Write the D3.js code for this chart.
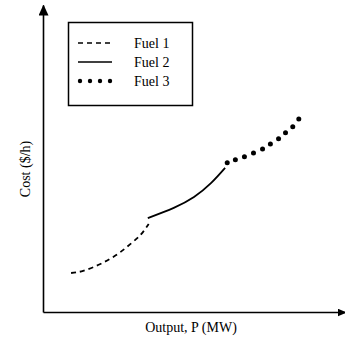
<!DOCTYPE html>
<html><head><meta charset="utf-8">
<script src="https://cdn.jsdelivr.net/npm/d3@7"></script>
<style>html,body{margin:0;padding:0;background:#fff;}</style>
</head><body>
<script>
const fuel1 = [[9.3,13],[13.3,13.7],[19,16],[24.7,19.3],[29,22.7],[32.3,25.7],[35,29.3]];
const fuel2 = [[34.7,31.3],[43.3,34.7],[50,38.3],[55.7,43],[60.3,48]];
const fuel3 = [[61,49.7],[63.7,50.7],[66.7,51.7],[69.7,53],[72.7,54.3],[75.3,56],[78,57.7],[80.3,59.7],[82.7,61.7],[84.7,64.3]];
const legendLabels = ["Fuel 1","Fuel 2","Fuel 3"];
const xLabel = "Output, P (MW)";
const yLabel = "Cost ($/h)";

const W=345,H=340;
const svg=d3.select("body").append("svg").attr("width",W).attr("height",H);
const defs=svg.append("defs");
defs.append("marker").attr("id","arrY").attr("viewBox","0 0 11 10").attr("refX",10).attr("refY",5)
  .attr("markerWidth",11).attr("markerHeight",10).attr("markerUnits","userSpaceOnUse").attr("orient","auto")
  .append("path").attr("d","M0,0L11,5L0,10Z").attr("fill","#000");
defs.append("marker").attr("id","arrX").attr("viewBox","0 0 9 8").attr("refX",8).attr("refY",4)
  .attr("markerWidth",9).attr("markerHeight",8).attr("markerUnits","userSpaceOnUse").attr("orient","auto")
  .append("path").attr("d","M0,0L9,4L0,8Z").attr("fill","#000");

const x=d3.scaleLinear().domain([0,100]).range([43,345]);
const y=d3.scaleLinear().domain([0,102.3]).range([312,5]);

const gx=svg.append("g").attr("transform","translate(0,312)")
  .call(d3.axisBottom(x).tickValues([]).tickSizeOuter(0));
gx.select(".domain").attr("stroke","#000").attr("stroke-width",1.6).attr("marker-end","url(#arrX)");
const gy=svg.append("g").attr("transform","translate(43,0)")
  .call(d3.axisLeft(y).tickValues([]).tickSizeOuter(0));
gy.select(".domain").attr("stroke","#000").attr("stroke-width",1.6).attr("marker-end","url(#arrY)");

const line=d3.line().x(d=>x(d[0])).y(d=>y(d[1])).curve(d3.curveNatural);
svg.append("path").datum(fuel1).attr("d",line).attr("fill","none").attr("stroke","#000")
  .attr("stroke-width",1.8).attr("stroke-dasharray","5,4");
svg.append("path").datum(fuel2).attr("d",line).attr("fill","none").attr("stroke","#000")
  .attr("stroke-width",1.8);
svg.selectAll("circle.f3").data(fuel3).join("circle").attr("class","f3")
  .attr("cx",d=>x(d[0])).attr("cy",d=>y(d[1])).attr("r",2.5).attr("fill","#000");

// legend
const lg=svg.append("g");
lg.append("rect").attr("x",68.5).attr("y",22.5).attr("width",124).attr("height",83)
  .attr("fill","none").attr("stroke","#000").attr("stroke-width",1.5);
const rows=[43,62,81];
lg.append("line").attr("x1",78).attr("x2",112).attr("y1",rows[0]).attr("y2",rows[0])
  .attr("stroke","#000").attr("stroke-width",1.6).attr("stroke-dasharray","5,4");
lg.append("line").attr("x1",78).attr("x2",112).attr("y1",rows[1]).attr("y2",rows[1])
  .attr("stroke","#000").attr("stroke-width",1.6);
lg.selectAll("circle").data([80,90,100,110]).join("circle").attr("cx",d=>d).attr("cy",rows[2]).attr("r",2.2).attr("fill","#000");
lg.selectAll("text").data(legendLabels).join("text").attr("x",134).attr("y",(d,i)=>rows[i]+4.5)
  .attr("font-family","Liberation Serif, Times New Roman, serif").attr("font-size",14).text(d=>d);

svg.append("text").attr("x",191).attr("y",332).attr("text-anchor","middle")
  .attr("font-family","Liberation Serif, Times New Roman, serif").attr("font-size",14).text(xLabel);
svg.append("text").attr("transform","translate(30,169) rotate(-90)").attr("text-anchor","middle")
  .attr("font-family","Liberation Serif, Times New Roman, serif").attr("font-size",14).text(yLabel);
</script>
</body></html>
